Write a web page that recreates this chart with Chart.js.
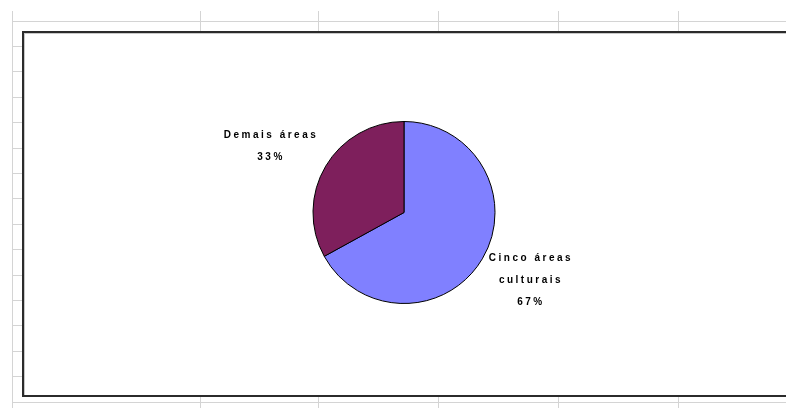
<!DOCTYPE html>
<html>
<head>
<meta charset="utf-8">
<script src="https://cdn.jsdelivr.net/npm/chart.js@4.4.1/dist/chart.umd.min.js"></script>
<style>
  html, body { margin: 0; padding: 0; background: #fff; }
  #wrap { width: 786px; height: 408px; }
</style>
</head>
<body>
<div id="wrap"><canvas id="pie" width="786" height="408"></canvas></div>
<script>
/* data */
const categories = [["Cinco áreas", "culturais"], ["Demais áreas"]];
const shares = [67, 33];
const sliceColors = ["#8080ff", "#7e1f5c"];

/* sheet backdrop: cell grid + chart frame */
const sheetGrid = {
    id: "sheetGrid",
    beforeDraw: (chart) => {
        const ctx = chart.ctx;
        const W = chart.width, H = chart.height;
        ctx.save();
        ctx.fillStyle = "#ffffff";
        ctx.fillRect(0, 0, W, H);

        ctx.strokeStyle = "#d4d4d4";
        ctx.lineWidth = 1;
        ctx.beginPath();
        // row lines above / below the frame
        ctx.moveTo(12, 21.5); ctx.lineTo(W, 21.5);
        ctx.moveTo(12, 402.5); ctx.lineTo(W, 402.5);
        // left header column
        ctx.moveTo(12.5, 11); ctx.lineTo(12.5, H);
        // column separators peeking out
        [200, 318, 438, 558, 678].forEach(x => {
            ctx.moveTo(x + 0.5, 11); ctx.lineTo(x + 0.5, 31);
            ctx.moveTo(x + 0.5, 397); ctx.lineTo(x + 0.5, H);
        });
        // row ticks on the left
        for (let y = 46; y < 390; y += 25.4) {
            const yy = Math.round(y) + 0.5;
            ctx.moveTo(12, yy); ctx.lineTo(22, yy);
        }
        ctx.stroke();

        // chart frame
        ctx.fillStyle = "#ffffff";
        ctx.fillRect(22, 31, W - 22, 366);
        ctx.strokeStyle = "#c8c8c8";
        ctx.strokeRect(24.5, 33.5, W, 363);
        ctx.strokeStyle = "#2b2b2b";
        ctx.lineWidth = 2;
        ctx.strokeRect(23, 32, W, 364);
        ctx.restore();
    }
};

/* outside labels: category lines + percentage */
const outsideLabels = {
    id: "outsideLabels",
    afterDraw: (chart) => {
        const ctx = chart.ctx;
        const meta = chart.getDatasetMeta(0);
        const total = shares.reduce((a, b) => a + b, 0);
        ctx.save();
        ctx.font = "bold 10px 'Liberation Sans', Arial, sans-serif";
        ctx.fillStyle = "#000";
        ctx.textAlign = "center";
        ctx.textBaseline = "middle";
        ctx.letterSpacing = "2.5px";
        meta.data.forEach((arc, i) => {
            const mid = (arc.startAngle + arc.endAngle) / 2;
            const r = arc.outerRadius;
            const cx = arc.x + Math.cos(mid) * (r + 60);
            const cy = arc.y + Math.sin(mid) * (r + 41);
            const lines = [].concat(categories[i], Math.round(shares[i] / total * 100) + "%");
            const lh = 22;
            const top = cy - (lines.length - 1) * lh / 2 + 1;
            lines.forEach((t, k) => ctx.fillText(t, cx - 3, top + k * lh));
        });
        ctx.restore();
    }
};

new Chart(document.getElementById("pie"), {
    type: "pie",
    data: {
        labels: categories,
        datasets: [{
            data: shares,
            backgroundColor: sliceColors,
            borderColor: "#000",
            borderWidth: 1
        }]
    },
    options: {
        responsive: false,
        animation: false,
        layout: { padding: { left: 204, right: 182, top: 121, bottom: 104 } },
        plugins: {
            legend: { display: false },
            tooltip: { enabled: false }
        }
    },
    plugins: [sheetGrid, outsideLabels]
});
</script>
</body>
</html>
